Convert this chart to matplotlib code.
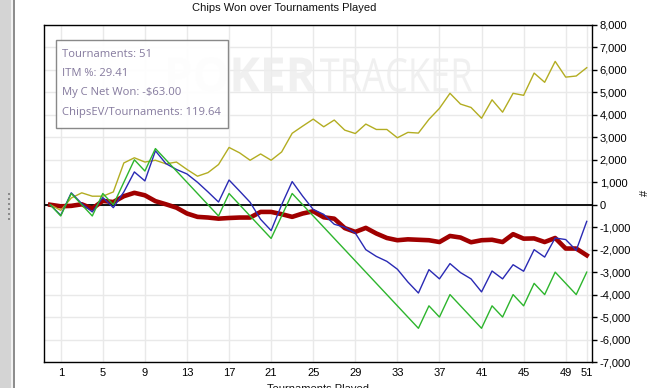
import matplotlib
matplotlib.use("Agg")
import matplotlib.pyplot as plt
from matplotlib.patches import Rectangle, PathPatch
from matplotlib.textpath import TextPath
from matplotlib.font_manager import FontProperties
from matplotlib.transforms import Affine2D, IdentityTransform
from matplotlib.ticker import FuncFormatter

# ---------------- data ----------------
tournaments = list(range(0, 52))
chips_ev = [0, -250, 300, 530, 380, 380, 570, 1860, 2090, 1900, 1980, 1820, 1900, 1570,
            1270, 1430, 1790, 2550, 2310, 1980, 2260, 1980, 2350, 3180, 3500, 3810, 3470,
            3770, 3320, 3170, 3590, 3350, 3350, 2980, 3220, 3190, 3800, 4290, 4960, 4480,
            4330, 3850, 4670, 4120, 4960, 4870, 5860, 5450, 6380, 5680, 5730, 6100]
chips_blue = [0, -470, 530, 50, -320, 320, -130, 570, 1460, 1060, 2400, 1830, 1570, 1370,
              1000, 570, 120, 1100, 610, 110, -650, -1150, 0, 1030, 380, -210, -430, -870,
              -1000, -1260, -2000, -2300, -2520, -2870, -3440, -3930, -2890, -3300, -2620,
              -3020, -3300, -3880, -2950, -3300, -2670, -2960, -2000, -2330, -1480, -1550,
              -2030, -740]
chips_won = [0, -500, 500, 0, -500, 500, 0, 1000, 2000, 1500, 2500, 2000, 1500, 1000, 500,
             0, -500, 500, 0, -500, -1000, -1500, -500, 500, 0, -500, -1000, -1500, -2000,
             -2500, -3000, -3500, -4000, -4500, -5000, -5500, -4500, -5000, -4000, -4500,
             -5000, -5500, -4500, -5000, -4000, -4500, -3500, -4000, -3000, -3500, -4000, -3000]
chips_red = [0, -70, -50, 20, -170, 170, 120, 380, 530, 420, 160, 20, -130, -390, -540, -570,
             -620, -590, -570, -570, -320, -320, -420, -540, -390, -290, -560, -620, -1040,
             -1210, -1030, -1280, -1480, -1580, -1540, -1560, -1580, -1660, -1390, -1460,
             -1670, -1580, -1560, -1660, -1310, -1510, -1500, -1660, -1480, -1950, -1950, -2250]
x_ticks = [1, 5, 9, 13, 17, 21, 25, 29, 33, 37, 41, 45, 49, 51]
y_ticks = list(range(-7000, 8001, 1000))
title = "Chips Won over Tournaments Played"
info_lines = ["Tournaments: 51", "ITM %: 29.41", "My C Net Won: -$63.00",
              "ChipsEV/Tournaments: 119.64"]

W, H = 655, 388
def fx(px):
    return px / W
def fy(py):
    return 1 - py / H

fig = plt.figure(figsize=(W / 100, H / 100), dpi=100)
fig.patch.set_facecolor("white")

# left UI strip
fig.patches.append(Rectangle((0, 0), fx(11), 1, transform=fig.transFigure,
                             facecolor="#d4d4d4", edgecolor="none", zorder=0))
fig.patches.append(Rectangle((fx(11), 0), fx(2), 1, transform=fig.transFigure,
                             facecolor="#f2f2f2", edgecolor="none", zorder=0))
fig.patches.append(Rectangle((fx(13), 0), fx(2), 1, transform=fig.transFigure,
                             facecolor="#8e8e8e", edgecolor="none", zorder=0))
for yy in [194, 199, 204, 209, 214, 219]:
    fig.patches.append(Rectangle((fx(8), fy(yy + 1)), fx(2), 2 / H, transform=fig.transFigure,
                                 facecolor="#8a8a8a", edgecolor="none", zorder=1))

ax = fig.add_axes([fx(44), fy(362), fx(592) - fx(44), fy(25) - fy(362)])
ax.set_facecolor("none")
ax.set_xlim(-0.59, 51.5)
ax.set_ylim(-7000, 8000)

ax.set_xticks(x_ticks)
ax.set_yticks(y_ticks)
ax.grid(True, color="#e9e9e9", lw=1, zorder=0)
ax.set_axisbelow(True)
ax.yaxis.tick_right()
ax.yaxis.set_major_formatter(FuncFormatter(lambda v, p: f"{int(v):,}"))
tick_font = dict(family="Liberation Sans", size=8)
for lab in ax.get_xticklabels() + ax.get_yticklabels():
    lab.set_fontfamily("Liberation Sans")
    lab.set_fontsize(8)
ax.tick_params(axis="x", length=0, pad=4, labelsize=8)
ax.tick_params(axis="y", length=3.5, width=1, pad=2, labelsize=8, right=True, left=False)
for s in ax.spines.values():
    s.set_color("black")
    s.set_linewidth(1)

ax.axhline(0, color="black", lw=1.3, zorder=2)

ax.plot(tournaments, chips_red, color="#a00000", lw=3.3, zorder=3, solid_joinstyle="round")
ax.plot(tournaments, chips_ev, color="#b3ad22", lw=1.0, zorder=4)
ax.plot(tournaments, chips_blue, color="#2a2ab4", lw=1.0, zorder=5)
ax.plot(tournaments, chips_won, color="#2db52d", lw=1.0, zorder=6)

# watermark
def add_word(txt, weight, x0, x1, y0, y1):
    tp = TextPath((0, 0), txt, size=40, prop=FontProperties(family="Open Sans", weight=weight))
    ext = tp.get_extents()
    sx = (x1 - x0) / ext.width
    sy = (y1 - y0) / ext.height
    tr = Affine2D().translate(-ext.x0, -ext.y0).scale(sx, sy).translate(x0, H - y1)
    path = tr.transform_path(tp)
    fig.patches.append(PathPatch(path, transform=IdentityTransform(), facecolor="#ededed",
                                 edgecolor="none", alpha=0.8, zorder=1.5))
add_word("POKER", "bold", 168, 316, 57, 92)
add_word("TRACKER", "normal", 320, 472, 58, 92)

# info box
fig.patches.append(Rectangle((fx(56), fy(128)), fx(228) - fx(56), fy(40) - fy(128),
                             transform=fig.transFigure, facecolor="white", edgecolor="#7f7f7f",
                             lw=1, alpha=0.92, zorder=2))
for i, (line, base) in enumerate(zip(info_lines, [56.7, 76, 95.3, 114.5])):
    fig.text(fx(62), fy(base), line, ha="left", va="baseline", color="#857a9e",
             family="Open Sans", fontsize=8.1, zorder=3)

fig.text(fx(284), fy(8), title, ha="center", va="center", family="Liberation Sans",
         fontsize=8, color="#111111")
fig.text(fx(318), fy(384.5), "Tournaments Played", ha="center", va="top",
         family="Liberation Sans", fontsize=8, color="#111111")
fig.text(fx(645), fy(193), "#", ha="center", va="center", rotation=90,
         family="Liberation Sans", fontsize=8, color="#111111")

fig.savefig("out.png", dpi=100, facecolor="white")
